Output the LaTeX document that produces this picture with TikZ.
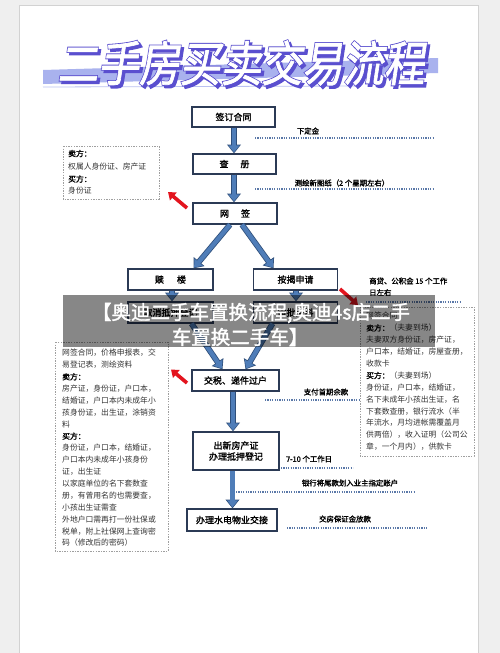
\documentclass[tikz,border=0pt]{standalone}
\usepackage{fontspec}
\usetikzlibrary{arrows.meta}
\newfontfamily\cjk{Noto Sans CJK SC}
\newfontfamily\cjkb[FakeBold=1.6]{Noto Sans CJK SC}
\newfontfamily\ttlw[FakeSlant=0.18,FakeBold=1.5]{Noto Sans CJK SC}
\newfontfamily\ttlp[FakeSlant=0.18,FakeBold=5]{Noto Sans CJK SC}
\XeTeXlinebreaklocale "zh"
\XeTeXlinebreakskip=0pt plus 4pt
\definecolor{boxc}{HTML}{2B3A55}
\definecolor{arrowfill}{HTML}{4F7DB8}
\definecolor{arrowedge}{HTML}{2F4F7A}
\definecolor{redc}{HTML}{E3141E}
\definecolor{dotc}{HTML}{5A78A8}
\definecolor{ttlp}{HTML}{5A4FCF}
\definecolor{band}{HTML}{A9B2EE}
\definecolor{pagebg}{HTML}{EFEFEF}
\definecolor{txtc}{HTML}{333333}
\newcommand\jl[1]{\makebox[98pt][s]{#1}}
\tikzset{
  box/.style={draw=boxc, line width=1.3pt, fill=white, inner sep=0pt,
    font=\cjkb\fontsize{9}{10}\selectfont},
  barrow/.style={draw=arrowfill, line width=4.2pt, -{Triangle[length=7pt,width=10.5pt]},
    shorten >=1pt,
    preaction={draw=arrowedge, line width=5.8pt, -{Triangle[length=8.8pt,width=13.5pt]}, shorten >=0pt}},
  rarrow/.style={draw=redc, line width=3.6pt, -{Triangle[length=7pt,width=10pt]}},
  dotline/.style={draw=dotc, line width=1.1pt, dash pattern=on 1.1pt off 1.3pt},
  dbox/.style={draw=gray!75, line width=0.6pt, dash pattern=on 1.4pt off 1.2pt},
  note/.style={font=\cjkb\fontsize{7.4}{8}\selectfont, text=black, inner sep=0pt},
  ln/.style={anchor=west, inner sep=0pt, text=txtc, font=\cjk\fontsize{7.8}{9}\selectfont},
}
\begin{document}
\begin{tikzpicture}[x=1pt,y=-1pt]
\useasboundingbox (0,0) rectangle (500,653);
\fill[pagebg] (0,0) rectangle (500,653);
\draw[fill=white, draw=gray!35, line width=0.8pt] (19,5) rectangle (478,660);

% title
\fill[band] (43,70) -- (438,58) -- (438,73) -- (43,84) -- cycle;
\draw[band!80, line width=0.8pt] (43,87) -- (360,86);
\node[font=\ttlp\fontsize{48}{48}\selectfont, text=ttlp] (tsh) at (243.5,65.5) {\scalebox{0.85}[1]{二手房买卖交易流程}};
\node[font=\ttlp\fontsize{48}{48}\selectfont, text=ttlp] (tol) at (241,63) {\scalebox{0.85}[1]{二手房买卖交易流程}};
\node[font=\ttlw\fontsize{48}{48}\selectfont, text=white] (title) at (241,63) {\scalebox{0.85}[1]{二手房买卖交易流程}};

% main boxes
\node[box, minimum width=83pt, minimum height=20pt] (ht) at (233.5,117) {签订合同};
\node[box, minimum width=83pt, minimum height=20pt] (cc) at (234.5,164) {查\hspace{12pt}册};
\node[box, minimum width=84pt, minimum height=21pt] (wq) at (235,213.5) {网\hspace{12pt}签};
\node[box, minimum width=85pt, minimum height=21pt] (sl) at (170.5,279.5) {赎\hspace{13pt}楼};
\node[box, minimum width=84pt, minimum height=21pt] (aj) at (295.5,279.5) {按揭申请};
\node[box, minimum width=85pt, minimum height=21pt] (qx) at (170.5,312.5) {取消抵押登记};
\node[box, minimum width=84pt, minimum height=21pt] (sp) at (295.5,312.5) {审批资料};
\node[box, minimum width=87pt, minimum height=21pt] (js) at (235.5,380.5) {交税、递件过户};
\node[box, minimum width=86pt, minimum height=38pt, align=center] (cx) at (236,451) {出新房产证\\[1pt]办理抵押登记};
\node[box, minimum width=90pt, minimum height=22pt] (bl) at (232,520) {办理水电物业交接};

% blue arrows
\draw[barrow] (ht.south -| 234,0) -- (cc.north -| 234,0);
\draw[barrow] (cc.south -| 234,0) -- (wq.north -| 234,0);
\draw[barrow] ([xshift=-5pt]wq.south) -- ([xshift=23pt]sl.north);
\draw[barrow] ([xshift=7pt]wq.south) -- ([xshift=-22pt]aj.north);
\draw[barrow] (sl.south -| 172,0) -- (qx.north -| 172,0);
\draw[barrow] (aj.south -| 296,0) -- (sp.north -| 296,0);
\draw[barrow] ([xshift=21pt]qx.south) -- ([xshift=-13pt]js.north);
\draw[barrow] ([xshift=-23pt]sp.south) -- ([xshift=10pt]js.north);
\draw[barrow] (js.south -| 233,0) -- (cx.north -| 233,0);
\draw[barrow] (cx.south -| 232.5,0) -- (bl.north -| 232.5,0);

% red arrows
\coordinate (r1s) at (187,208); \coordinate (r1e) at (168,192);
\coordinate (r2s) at (340,289); \coordinate (r2e) at (358,305);
\coordinate (r3s) at (187,383); \coordinate (r3e) at (171,369.5);
\draw[rarrow] (r1s) -- (r1e);
\draw[rarrow] (r2s) -- (r2e);
\draw[rarrow] (r3s) -- (r3e);

% notes + dotted lines
\node[note] (n1) at (308,131) {下定金};
\draw[dotline] (255,138) -- (433,138);
\node[note] (n2) at (342,183) {测绘新图纸（2 个星期左右）};
\draw[dotline] (255,189) -- (433,189);
\node[note, anchor=west] (n3a) at (369,281) {商贷、公积金 15 个工作};
\node[note, anchor=west] (n3b) at (369,292.5) {日左右};
\draw[dotline] (366,302) -- (460,302);
\node[note] (n4) at (326,392) {支付首期余款};
\draw[dotline] (265,400) -- (360,400);
\node[note] (n5) at (309,459) {7-10 个工作日};
\draw[dotline] (281,468) -- (353,468);
\node[note] (n6) at (350,483) {银行将尾款划入业主指定账户};
\draw[dotline] (236,492) -- (415,492);
\node[note] (n7) at (345,519) {交房保证金放款};
\draw[dotline] (287,528) -- (427,528);

% left small dashed box
\draw[dbox] (63,146) rectangle (159,199);
\node[ln, font=\cjkb\fontsize{7.8}{9}\selectfont, text=black] at (68,153.5) {卖方：};
\node[ln] at (68,166.5) {权属人身份证、房产证};
\node[ln, font=\cjkb\fontsize{7.8}{9}\selectfont, text=black] at (68,179) {买方：};
\node[ln] at (68,191) {身份证};

% left big dashed box
\draw[dbox] (55,342) rectangle (168,551);
\foreach [count=\i] \t in {
  \jl{网签合同，价格申报表，交},
  易登记表，测绘资料,
  {{\cjkb\color{black}卖方：}},
  \jl{房产证，身份证，户口本，},
  \jl{结婚证，户口本内未成年小},
  \jl{孩身份证，出生证，涂销资},
  料,
  {{\cjkb\color{black}买方：}},
  \jl{身份证，户口本，结婚证，},
  \jl{户口本内未成年小孩身份},
  证，出生证,
  \jl{以家庭单位的名下套数查},
  \jl{册，有曾用名的也需要查，},
  小孩出生证需查,
  \jl{外地户口需再打一份社保或},
  \jl{税单，附上社保网上查询密},
  码（修改后的密码）}
  \node[ln] at (62,{353+(\i-1)*11.875}) {\t};

% right dashed box
\draw[dbox] (360,307) rectangle (474,456);
\foreach [count=\i] \t in {
  网签合同,
  {{\cjkb\color{black}卖方：}（夫妻到场）},
  \jl{夫妻双方身份证，房产证，},
  \jl{户口本，结婚证，房屋查册，},
  收款卡,
  {{\cjkb\color{black}买方：}（夫妻到场）},
  \jl{身份证，户口本，结婚证，},
  \jl{名下未成年小孩出生证，名},
  \jl{下套数查册，银行流水（半},
  \jl{年流水，月均进帐需覆盖月},
  \jl{供两倍），收入证明（公司公},
  章，一个月内），供款卡}
  \node[ln] at (366,{316+(\i-1)*11.9}) {\t};

% watermark overlay
\fill[black, opacity=0.47] (63,295) rectangle (435,347);
\node[font=\cjkb\fontsize{19.5}{20}\selectfont, text=white, inner sep=0pt] (wm1) at (251,313) {【奥迪二手车置换流程,奥迪4s店二手};
\node[font=\cjkb\fontsize{19.5}{20}\selectfont, text=white, inner sep=0pt] (wm2) at (240,337) {车置换二手车】};
\end{tikzpicture}
\end{document}
